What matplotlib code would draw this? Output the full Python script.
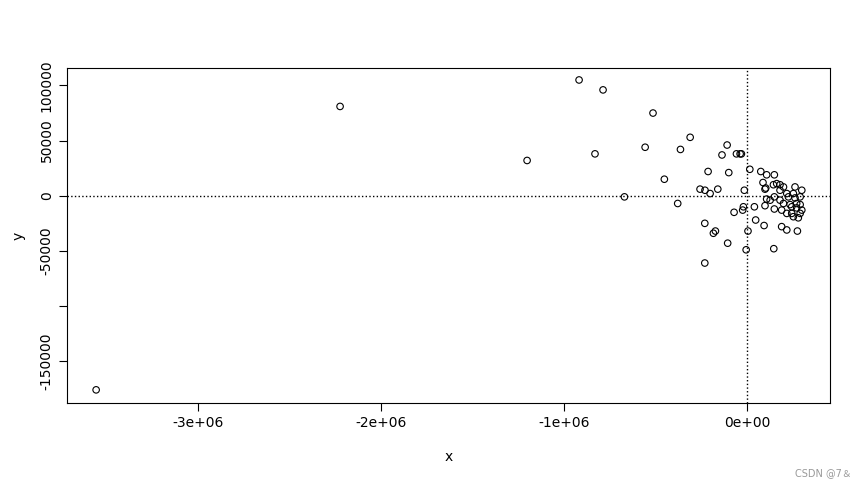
import matplotlib.pyplot as plt
import numpy as np

# values in thousands
x_k = [-3557, -2224, -1202, -918, -787, -831, -514,
       -557, -364, -311, -109, -137, -58, -38, -31, -452, -213, -100, 15, 75, 107, 149,
       87, 102, 144, 162, 180, 199, 262, 299, -257, -230, -202, -160, -15, -670, -379,
       107, 149, 180, 226, 262, 290, -20, 40, 98, -71, -24, 149, 189, 244, 271, 299,
       217, 253, 280, -231, 47, 93, 189, 217, 275, -184, -173, 5, -106, -5, 146, -231,
       199, 235, 271, 290, 244, 290, 180, 217, 253, 126, 98]
y_k = [-176, 81, 32, 105, 96, 38, 75,
       44, 42, 53, 46, 37, 38, 38, 38, 15, 22, 21, 24, 22, 19, 19,
       12, 7, 10, 11, 10, 8, 8, 5, 6, 5, 2, 6, 5, -1, -7,
       -3, -1, -4, -1, -2, -1, -10, -10, -9, -15, -13, -12, -13, -10, -11, -13,
       -16, -19, -20, -25, -22, -27, -28, -31, -32, -34, -32, -32, -43, -49, -48, -61,
       -7, -8, -7, -8, -16, -16, 5, 2, 2, -4, 6]

x = np.array(x_k) * 1000.0
y = np.array(y_k) * 1000.0

fig = plt.figure(figsize=(8.65, 4.88), dpi=100)
ax = fig.add_axes([0.0775, 0.174, 0.882, 0.687])
ax.scatter(x, y, s=22, facecolors='none', edgecolors='black', linewidths=0.8)
ax.axhline(0, color='black', ls=':', lw=1)
ax.axvline(0, color='black', ls=':', lw=1)
ax.set_xlim(-3716000, 453000)
ax.set_ylim(-188000, 116000)

ax.set_xticks([-3e6, -2e6, -1e6, 0])
ax.set_xticklabels(['-3e+06', '-2e+06', '-1e+06', '0e+00'])
ax.set_yticks([-150000, -100000, -50000, 0, 50000, 100000])
ax.set_yticklabels(['-150000', '', '-50000', '0', '50000', '100000'], rotation=90, va='center')
ax.tick_params(labelsize=10, length=6)
ax.set_xlabel('x', fontsize=10, labelpad=14)
ax.set_ylabel('y', fontsize=10, labelpad=10)
for s in ax.spines.values():
    s.set_linewidth(0.8)

fig.text(0.985, 0.02, 'CSDN @7＆', ha='right', va='bottom', fontsize=7, color='#999999',
         family=['DejaVu Sans', 'Noto Sans CJK SC'])
plt.savefig('out.png')
